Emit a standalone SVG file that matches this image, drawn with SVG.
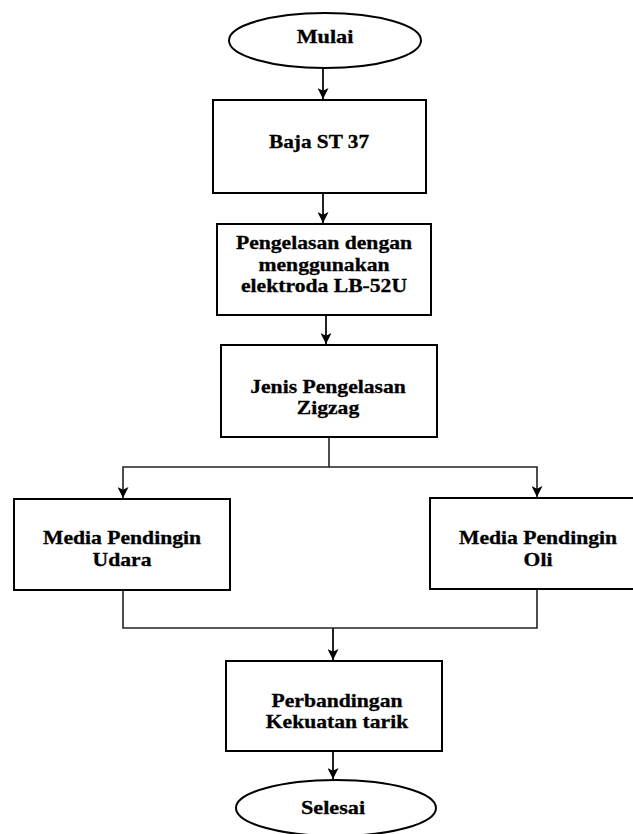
<svg xmlns="http://www.w3.org/2000/svg" width="633" height="834" viewBox="0 0 633 834">
<style>
.box{fill:#fff;stroke:#000;stroke-width:2}
.ln{fill:none;stroke:#222;stroke-width:1.6}
.t{font-family:"Liberation Serif","Times New Roman",serif;font-weight:bold;font-size:18.5px;fill:#000;text-anchor:middle;stroke:#000;stroke-width:0.3}
</style>
<defs>
<marker id="ah" viewBox="0 0 10 10" refX="10" refY="5" markerWidth="11" markerHeight="11" markerUnits="userSpaceOnUse" orient="auto">
<path d="M0,0 L10,5 L0,10 L2.5,5 Z" fill="#000"/>
</marker>
</defs>
<rect width="633" height="834" fill="#fff"/>
<g id="connectors">
<line class="ln" x1="323" y1="68" x2="323" y2="99" marker-end="url(#ah)" style="stroke-width:2"/>
<line class="ln" x1="323" y1="193" x2="323" y2="223" marker-end="url(#ah)" style="stroke-width:2"/>
<line class="ln" x1="326" y1="315" x2="326" y2="344" marker-end="url(#ah)" style="stroke-width:2"/>
<polyline class="ln" points="329,437 329,467 123,467 123,498" marker-end="url(#ah)"/>
<polyline class="ln" points="329,467 537,467 537,497" marker-end="url(#ah)"/>
<polyline class="ln" points="123,590 123,628 537,628 537,589"/>
<line class="ln" x1="333" y1="628" x2="333" y2="660" marker-end="url(#ah)" style="stroke-width:2"/>
<line class="ln" x1="333" y1="751" x2="333" y2="779" marker-end="url(#ah)" style="stroke-width:2"/>
</g>
<g id="mulai">
<ellipse class="box" cx="325" cy="40.5" rx="96" ry="27.5"/>
<text class="t" transform="translate(325,43) scale(1.2,1)">Mulai</text>
</g>
<g id="baja">
<rect class="box" x="213" y="100" width="213" height="93"/>
<text class="t" transform="translate(319,148) scale(1.15,1)">Baja ST 37</text>
</g>
<g id="pengelasan">
<rect class="box" x="217" y="224" width="214" height="91"/>
<text class="t" transform="translate(324,249) scale(1.17,1)">Pengelasan dengan</text>
<text class="t" transform="translate(324,271) scale(1.17,1)">menggunakan</text>
<text class="t" transform="translate(324,292) scale(1.17,1)">elektroda LB-52U</text>
</g>
<g id="jenis">
<rect class="box" x="221" y="345" width="216" height="92"/>
<text class="t" transform="translate(328,393) scale(1.17,1)">Jenis Pengelasan</text>
<text class="t" transform="translate(328,414) scale(1.17,1)">Zigzag</text>
</g>
<g id="udara">
<rect class="box" x="14" y="499" width="216" height="91"/>
<text class="t" transform="translate(122,544) scale(1.17,1)">Media Pendingin</text>
<text class="t" transform="translate(122,566) scale(1.17,1)">Udara</text>
</g>
<g id="oli">
<rect class="box" x="430" y="498" width="210" height="91"/>
<text class="t" transform="translate(538,544) scale(1.17,1)">Media Pendingin</text>
<text class="t" transform="translate(538,566) scale(1.17,1)">Oli</text>
</g>
<g id="perbandingan">
<rect class="box" x="226" y="661" width="216" height="90"/>
<text class="t" transform="translate(337,707) scale(1.17,1)">Perbandingan</text>
<text class="t" transform="translate(337,728) scale(1.17,1)">Kekuatan tarik</text>
</g>
<g id="selesai">
<ellipse class="box" cx="336" cy="808" rx="100" ry="28"/>
<text class="t" transform="translate(333,814) scale(1.2,1)">Selesai</text>
</g>
</svg>
